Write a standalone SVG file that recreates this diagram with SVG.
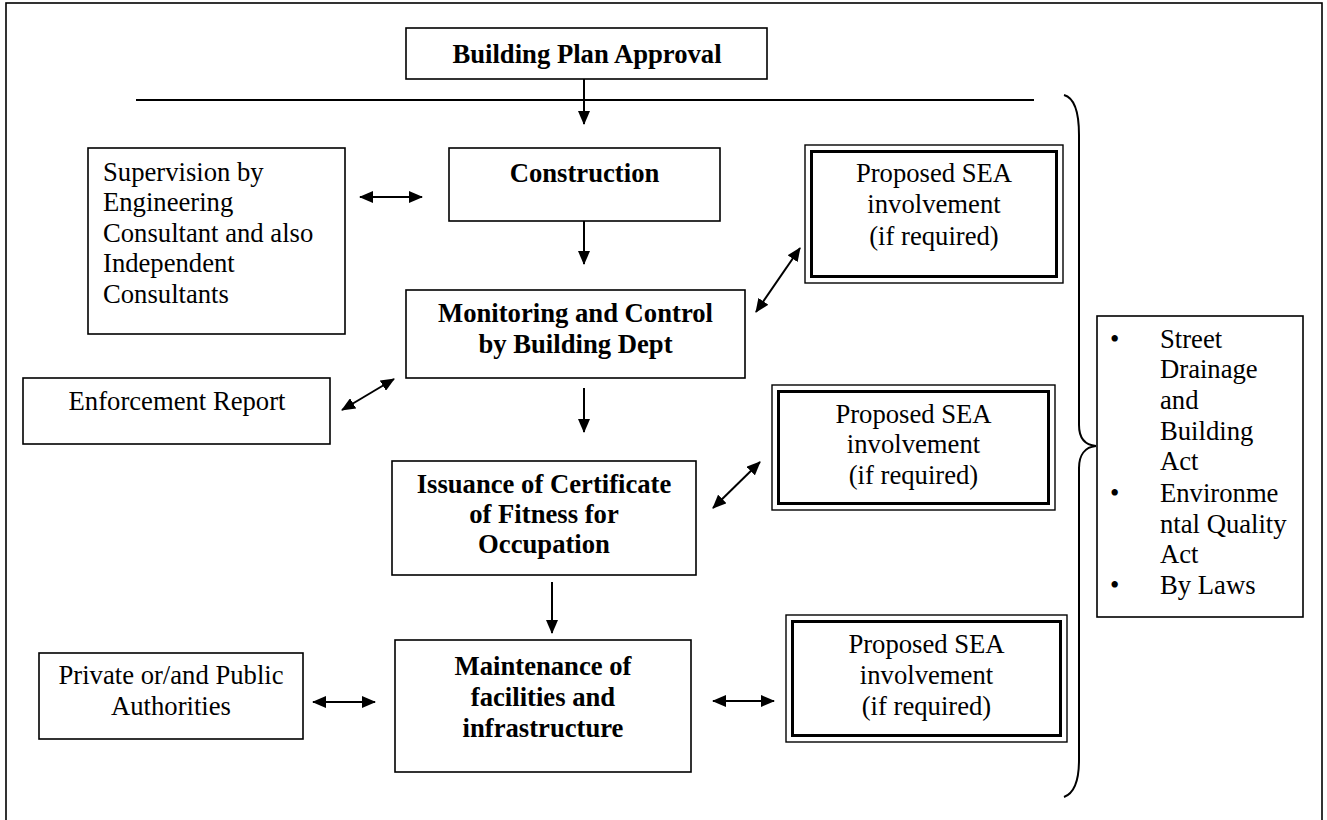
<svg xmlns="http://www.w3.org/2000/svg" width="1327" height="820" viewBox="0 0 1327 820">
  <style>
    .box { fill: #fff; stroke: #000; stroke-width: 1.6; }
    .dbl-out { fill: #fff; stroke: #000; stroke-width: 1.4; }
    .dbl-in { fill: none; stroke: #000; stroke-width: 3; }
    .t { font-family: "Liberation Serif", "Times New Roman", serif; font-size: 26.67px; fill: #000; }
    .b { font-weight: bold; }
    .c { text-anchor: middle; }
    .link { fill: none; stroke: #000; stroke-width: 2; }
  </style>
  <defs>
    <marker id="ah" viewBox="0 0 14 12" refX="13" refY="6" markerWidth="14" markerHeight="12" markerUnits="userSpaceOnUse" orient="auto-start-reverse">
      <path d="M0,0 L14,6 L0,12 z" fill="#000"/>
    </marker>
  </defs>

  <rect id="frame" x="6" y="3" width="1316" height="840" fill="#fff" stroke="#000" stroke-width="1.6"/>

  <g id="plan-approval">
    <rect class="box" x="406" y="28" width="361" height="51"/>
    <text class="t b c" x="587" y="63">Building Plan Approval</text>
  </g>

  <g id="construction">
    <rect class="box" x="449" y="148" width="271" height="73"/>
    <text class="t b c" x="584.5" y="182">Construction</text>
  </g>

  <g id="supervision">
    <rect class="box" x="88" y="148" width="257" height="186"/>
    <text class="t" x="103" y="181">Supervision by</text>
    <text class="t" x="103" y="211">Engineering</text>
    <text class="t" x="103" y="242">Consultant and also</text>
    <text class="t" x="103" y="272">Independent</text>
    <text class="t" x="103" y="303">Consultants</text>
  </g>

  <g id="monitoring">
    <rect class="box" x="406" y="290" width="339" height="88"/>
    <text class="t b c" x="575.5" y="322">Monitoring and Control</text>
    <text class="t b c" x="575.5" y="353">by Building Dept</text>
  </g>

  <g id="enforcement">
    <rect class="box" x="23" y="378" width="307" height="66"/>
    <text class="t c" x="177" y="410">Enforcement Report</text>
  </g>

  <g id="certificate">
    <rect class="box" x="392" y="461" width="304" height="114"/>
    <text class="t b c" x="544" y="493">Issuance of Certificate</text>
    <text class="t b c" x="544" y="523">of Fitness for</text>
    <text class="t b c" x="544" y="553">Occupation</text>
  </g>

  <g id="authorities">
    <rect class="box" x="39" y="653" width="264" height="86"/>
    <text class="t c" x="171" y="684">Private or/and Public</text>
    <text class="t c" x="171" y="715">Authorities</text>
  </g>

  <g id="maintenance">
    <rect class="box" x="395" y="640" width="296" height="132"/>
    <text class="t b c" x="543" y="675">Maintenance of</text>
    <text class="t b c" x="543" y="706">facilities and</text>
    <text class="t b c" x="543" y="737">infrastructure</text>
  </g>

  <g id="sea-1">
    <rect class="dbl-out" x="805" y="145" width="258" height="138"/>
    <rect class="dbl-in" x="811.5" y="151.5" width="245" height="125"/>
    <text class="t c" x="934" y="182">Proposed SEA</text>
    <text class="t c" x="934" y="213">involvement</text>
    <text class="t c" x="934" y="245">(if required)</text>
  </g>

  <g id="sea-2">
    <rect class="dbl-out" x="772" y="385" width="283" height="125"/>
    <rect class="dbl-in" x="778.5" y="391.5" width="270" height="112"/>
    <text class="t c" x="913.5" y="423">Proposed SEA</text>
    <text class="t c" x="913.5" y="453">involvement</text>
    <text class="t c" x="913.5" y="484">(if required)</text>
  </g>

  <g id="sea-3">
    <rect class="dbl-out" x="786" y="615" width="281" height="127"/>
    <rect class="dbl-in" x="792.5" y="621.5" width="268" height="114"/>
    <text class="t c" x="926.5" y="653">Proposed SEA</text>
    <text class="t c" x="926.5" y="684">involvement</text>
    <text class="t c" x="926.5" y="715">(if required)</text>
  </g>

  <g id="legislation">
    <rect class="box" x="1097" y="316" width="206" height="301"/>
    <text class="t" x="1110" y="348">•</text>
    <text class="t" x="1160" y="348">Street</text>
    <text class="t" x="1160" y="378">Drainage</text>
    <text class="t" x="1160" y="409">and</text>
    <text class="t" x="1160" y="440">Building</text>
    <text class="t" x="1160" y="470">Act</text>
    <text class="t" x="1110" y="502">•</text>
    <text class="t" x="1160" y="502">Environme</text>
    <text class="t" x="1160" y="533">ntal Quality</text>
    <text class="t" x="1160" y="563">Act</text>
    <text class="t" x="1110" y="594">•</text>
    <text class="t" x="1160" y="594">By Laws</text>
  </g>

  <g id="connectors">
    <line class="link" x1="136" y1="100" x2="1034" y2="100"/>
    <path class="link" d="M1064,95 C1075,98 1079,115 1079,135 L1079,425 C1079,438 1085,445 1096,446 C1085,447 1079,455 1079,468 L1079,760 C1079,780 1075,793 1064,797"/>
    <line class="link" x1="584" y1="79" x2="584" y2="124" marker-end="url(#ah)"/>
    <line class="link" x1="584" y1="221" x2="584" y2="264" marker-end="url(#ah)"/>
    <line class="link" x1="584" y1="388" x2="584" y2="432" marker-end="url(#ah)"/>
    <line class="link" x1="552" y1="582" x2="552" y2="633" marker-end="url(#ah)"/>
    <line class="link" x1="360" y1="197" x2="422" y2="197" marker-start="url(#ah)" marker-end="url(#ah)"/>
    <line class="link" x1="342" y1="410" x2="394" y2="379" marker-start="url(#ah)" marker-end="url(#ah)"/>
    <line class="link" x1="756" y1="312" x2="800" y2="248" marker-start="url(#ah)" marker-end="url(#ah)"/>
    <line class="link" x1="713" y1="508" x2="760" y2="462" marker-start="url(#ah)" marker-end="url(#ah)"/>
    <line class="link" x1="313" y1="702" x2="375" y2="702" marker-start="url(#ah)" marker-end="url(#ah)"/>
    <line class="link" x1="713" y1="701" x2="774" y2="701" marker-start="url(#ah)" marker-end="url(#ah)"/>
  </g>
</svg>
